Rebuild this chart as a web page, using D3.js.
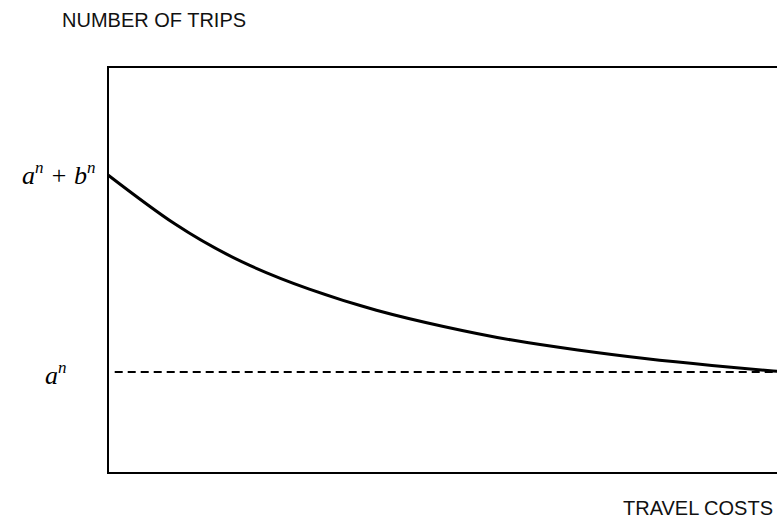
<!DOCTYPE html>
<html>
<head>
<meta charset="utf-8">
<script src="https://cdn.jsdelivr.net/npm/d3@7"></script>
<style>
  html, body { margin: 0; padding: 0; background: #fff; }
  svg { display: block; }
  .axis-title { font-family: "Liberation Sans", Arial, sans-serif; font-size: 20px; fill: #111; }
  .math { font-family: "Liberation Serif", "Times New Roman", serif; font-style: italic; fill: #000; }
</style>
</head>
<body>
<svg id="chart" width="777" height="521"></svg>
<script>
// Travel costs (x) and number of trips (y) along the demand curve
const costs = [0, 10, 20, 30, 40, 50, 60, 70, 80, 90, 100];
const trips = [73.4, 61.3, 52.0, 45.3, 40.1, 36.1, 32.8, 30.3, 28.2, 26.5, 25.0];

// Reference levels marked on the vertical axis
const floorTrips = 24.9;      // a^n
const maxTrips = 73.4;        // a^n + b^n

const xTitle = "TRAVEL COSTS";
const yTitle = "NUMBER OF TRIPS";

const svg = d3.select("#chart");

const margin = { left: 108, right: -2, top: 67, bottom: 48 };
const W = 777, H = 521;

const x = d3.scaleLinear().domain([0, 100]).range([margin.left, W - margin.right]);
const y = d3.scaleLinear().domain([0, 100]).range([H - margin.bottom, margin.top]);

// Plot frame
svg.append("rect")
  .attr("x", x(0))
  .attr("y", y(100))
  .attr("width", x(100) - x(0))
  .attr("height", y(0) - y(100))
  .attr("fill", "none")
  .attr("stroke", "#000")
  .attr("stroke-width", 2);

// Asymptote a^n
svg.append("line")
  .attr("x1", x(1))
  .attr("x2", x(100))
  .attr("y1", y(floorTrips))
  .attr("y2", y(floorTrips))
  .attr("stroke", "#000")
  .attr("stroke-width", 2)
  .attr("stroke-dasharray", "8,5");

// Demand curve
const pts = costs.map((c, i) => [c, trips[i]]);
const line = d3.line()
  .x(d => x(d[0]))
  .y(d => y(d[1]))
  .curve(d3.curveNatural);

svg.append("path")
  .datum(pts)
  .attr("d", line)
  .attr("fill", "none")
  .attr("stroke", "#000")
  .attr("stroke-width", 3);

// Axis titles
svg.append("text")
  .attr("class", "axis-title")
  .attr("x", 62)
  .attr("y", 27)
  .text(yTitle);

svg.append("text")
  .attr("class", "axis-title")
  .attr("x", 773)
  .attr("y", 515)
  .attr("text-anchor", "end")
  .text(xTitle);

// Level labels on the vertical axis
function mathLabel(xPos, yPos, parts) {
  const t = svg.append("text")
    .attr("class", "math")
    .attr("x", xPos)
    .attr("y", yPos)
    .attr("font-size", 26);
  parts.forEach(p => {
    t.append("tspan")
      .attr("font-size", p.sup ? 17 : 26)
      .attr("dy", p.dy || 0)
      .text(p.t);
  });
}

mathLabel(22, y(maxTrips) + 9, [
  { t: "a" },
  { t: "n", sup: true, dy: -11 },
  { t: " + ", dy: 11 },
  { t: "b" },
  { t: "n", sup: true, dy: -11 }
]);

mathLabel(45, y(floorTrips) + 12, [
  { t: "a" },
  { t: "n", sup: true, dy: -11 }
]);
</script>
</body>
</html>
